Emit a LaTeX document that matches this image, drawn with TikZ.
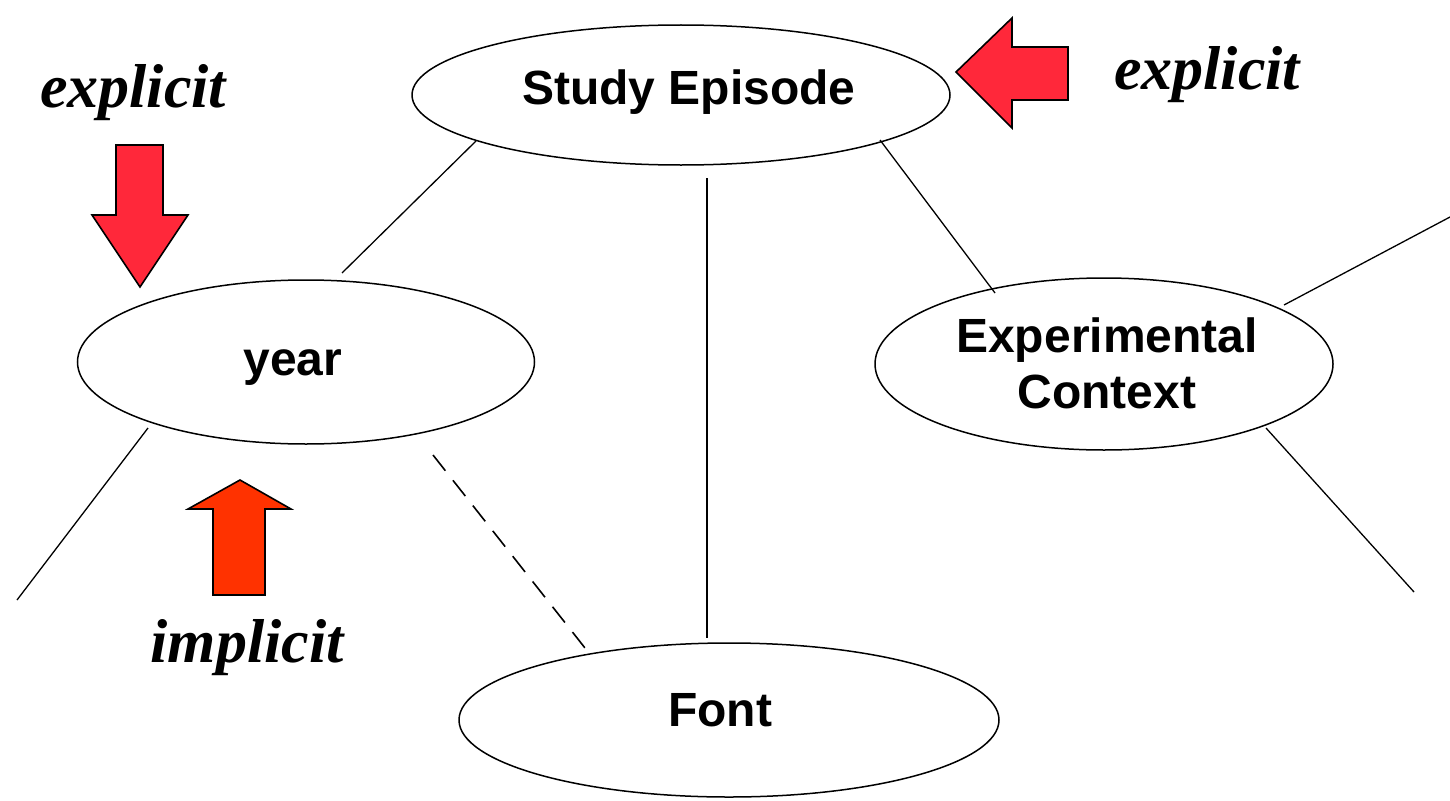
\documentclass[tikz,border=0pt]{standalone}
\usepackage{fontspec}
\setmainfont{Liberation Serif}
\newfontfamily\arialfont{Liberation Sans}
\usetikzlibrary{shapes.geometric}
\definecolor{arrowred}{RGB}{255,40,58}
\definecolor{arroworange}{RGB}{255,50,0}
\tikzset{
  oval/.style={ellipse,draw,line width=1.5pt,inner sep=0pt},
  lbl/.style={font=\arialfont\bfseries\fontsize{48}{56}\selectfont,anchor=base,align=center,inner sep=0pt},
  note/.style={font=\bfseries\itshape\fontsize{62}{70}\selectfont,anchor=base,inner sep=0pt},
  conn/.style={line width=1.3pt},
  bigarrow/.style={draw,line width=1.6pt,line join=miter}
}
\begin{document}
\begin{tikzpicture}[x=1pt,y=-1pt]
\useasboundingbox (0,0) rectangle (1450,800);
% ellipses
\node[oval,minimum width=538pt,minimum height=140pt] (se) at (681,95) {};
\node[oval,minimum width=457pt,minimum height=164pt] (yr) at (306,362) {};
\node[oval,minimum width=458pt,minimum height=172pt] (ec) at (1104,364) {};
\node[oval,minimum width=540pt,minimum height=154pt] (ft) at (729,720) {};
% labels
\node[lbl] (seT) at (689,104) {Study Episode};
\node[lbl] (yrT) at (293,375) {year};
\node[lbl] (ecT1) at (1107,352) {Experimental};
\node[lbl] (ecT2) at (1107,408) {Context};
\node[lbl] (ftT) at (720,726) {Font};
% connector ends
\coordinate (a1) at (342,273); \coordinate (a2) at (476,141);
\coordinate (b1) at (707,178); \coordinate (b2) at (707,638);
\coordinate (c1) at (880,140); \coordinate (c2) at (995,293);
\coordinate (d1) at (1284,305); \coordinate (d2) at (1450,217);
\coordinate (e1) at (148,428); \coordinate (e2) at (17,600);
\coordinate (f1) at (433,455); \coordinate (f2) at (585,648);
\coordinate (g1) at (1266,428); \coordinate (g2) at (1414,592);
\draw[conn] (a1) -- (a2);
\draw[conn] (b1) -- (b2);
\draw[conn] (c1) -- (c2);
\draw[conn] (d1) -- (d2);
\draw[conn] (e1) -- (e2);
\draw[conn,line width=1.6pt,dash pattern=on 20pt off 12.2pt] (f1) -- (f2);
\draw[conn] (g1) -- (g2);
% block arrows
\filldraw[bigarrow,fill=arrowred] (956,72) -- (1012,18) -- (1012,47) -- (1068,47) -- (1068,100) -- (1012,100) -- (1012,128) -- cycle;
\filldraw[bigarrow,fill=arrowred] (140,287) -- (92,215) -- (116,215) -- (116,145) -- (163,145) -- (163,215) -- (188,215) -- cycle;
\filldraw[bigarrow,fill=arroworange] (240,480) -- (291,509) -- (265,509) -- (265,595) -- (213,595) -- (213,509) -- (188,509) -- cycle;
% notes
\node[note] (n1) at (133,107) {explicit};
\node[note] (n2) at (1207,89) {explicit};
\node[note] (n3) at (247,662) {implicit};
\end{tikzpicture}
\end{document}
